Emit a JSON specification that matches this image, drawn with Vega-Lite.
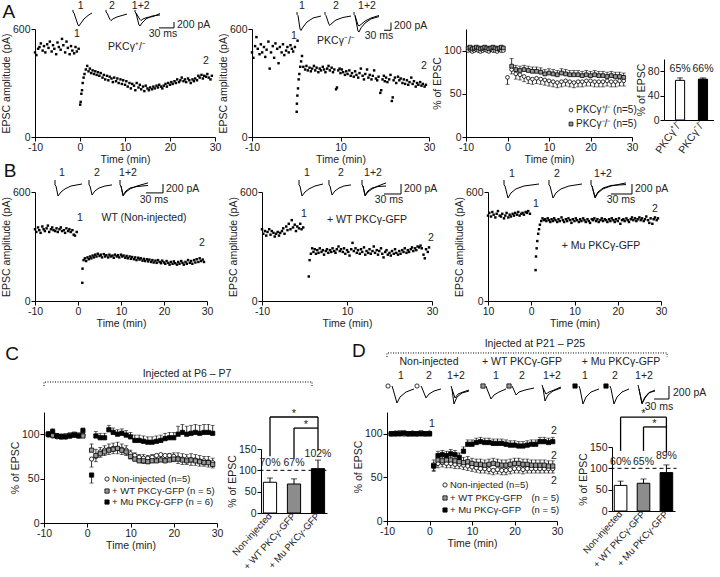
{
"$schema":"https://vega.github.io/schema/vega-lite/v6.json",
"background":"#ffffff",
"padding":{"left":1,"top":0,"right":0,"bottom":0},
"config":{
 "view":{"stroke":null},
 "font":"Liberation Sans",
 "axis":{"labelFont":"Liberation Sans","titleFont":"Liberation Sans","labelFontSize":10.5,"titleFontSize":10.5,"titleFontWeight":"normal","labelColor":"#222","titleColor":"#222","domainColor":"#000","tickColor":"#000","tickSize":4,"grid":false,"labelPadding":1,"titlePadding":1,"labelFlush":false},
 "text":{"font":"Liberation Sans","fontSize":10.5,"color":"#222"},
 "line":{"color":"#000","strokeWidth":1},
 "rule":{"color":"#000"},
 "tick":{"color":"#000"}
},
"datasets":{
"a1":[{"t":-10,"v":470},{"t":-9.7,"v":455},{"t":-9.3,"v":490},{"t":-9,"v":500},{"t":-8.7,"v":520},{"t":-8.3,"v":480},{"t":-8,"v":505},{"t":-7.7,"v":470},{"t":-7.3,"v":515},{"t":-7,"v":495},{"t":-6.7,"v":530},{"t":-6.3,"v":475},{"t":-6,"v":510},{"t":-5.7,"v":490},{"t":-5.3,"v":460},{"t":-5,"v":525},{"t":-4.7,"v":500},{"t":-4.3,"v":485},{"t":-4,"v":545},{"t":-3.7,"v":510},{"t":-3.3,"v":470},{"t":-3,"v":530},{"t":-2.7,"v":495},{"t":-2.3,"v":460},{"t":-2,"v":505},{"t":-1.7,"v":480},{"t":-1.3,"v":465},{"t":-1,"v":500},{"t":-0.7,"v":475},{"t":-0.3,"v":490},
{"t":0.05,"v":180},{"t":0.15,"v":195},{"t":0.3,"v":240},{"t":0.45,"v":260},{"t":0.6,"v":300},{"t":0.8,"v":330},{"t":1,"v":350},{"t":1.3,"v":375},{"t":1.6,"v":395},{"t":1.9,"v":365},{"t":2.2,"v":380},{"t":2.5,"v":355},{"t":2.8,"v":370},{"t":3.1,"v":350},{"t":3.4,"v":365},{"t":3.7,"v":345},{"t":4,"v":360},{"t":4.3,"v":340},{"t":4.6,"v":355},{"t":5,"v":330},{"t":5.3,"v":345},{"t":5.6,"v":320},{"t":6,"v":340},{"t":6.3,"v":315},{"t":6.6,"v":335},{"t":7,"v":325},{"t":7.3,"v":305},{"t":7.6,"v":330},{"t":8,"v":310},{"t":8.3,"v":325},{"t":8.6,"v":300},{"t":9,"v":320},{"t":9.3,"v":295},{"t":9.6,"v":315},{"t":10,"v":290},{"t":10.3,"v":310},{"t":10.6,"v":280},{"t":11,"v":300},{"t":11.3,"v":270},{"t":11.6,"v":295},{"t":12,"v":285},{"t":12.3,"v":260},{"t":12.6,"v":300},{"t":13,"v":275},{"t":13.3,"v":290},{"t":13.6,"v":265},{"t":14,"v":280},{"t":14.3,"v":255},{"t":14.6,"v":285},{"t":15,"v":270},{"t":15.3,"v":260},{"t":15.6,"v":275},{"t":16,"v":265},{"t":16.3,"v":280},{"t":16.6,"v":270},{"t":17,"v":285},{"t":17.3,"v":275},{"t":17.6,"v":290},{"t":18,"v":280},{"t":18.3,"v":270},{"t":18.6,"v":285},{"t":19,"v":295},{"t":19.3,"v":280},{"t":19.6,"v":300},{"t":20,"v":290},{"t":20.3,"v":305},{"t":20.6,"v":295},{"t":21,"v":310},{"t":21.3,"v":300},{"t":21.6,"v":320},{"t":22,"v":305},{"t":22.3,"v":315},{"t":22.6,"v":330},{"t":23,"v":310},{"t":23.3,"v":320},{"t":23.6,"v":305},{"t":24,"v":325},{"t":24.3,"v":315},{"t":24.6,"v":300},{"t":25,"v":320},{"t":25.3,"v":310},{"t":25.6,"v":325},{"t":26,"v":315},{"t":26.3,"v":340},{"t":26.6,"v":330},{"t":27,"v":345},{"t":27.3,"v":325},{"t":27.6,"v":340},{"t":28,"v":335},{"t":28.3,"v":350},{"t":28.6,"v":330},{"t":29,"v":320},{"t":29.3,"v":340}],
"a2":[{"t":-10,"v":470},{"t":-9.7,"v":440},{"t":-9.3,"v":505},{"t":-9,"v":555},{"t":-8.7,"v":490},{"t":-8.3,"v":460},{"t":-8,"v":515},{"t":-7.7,"v":470},{"t":-7.3,"v":500},{"t":-7,"v":445},{"t":-6.7,"v":485},{"t":-6.3,"v":530},{"t":-6,"v":380},{"t":-5.7,"v":470},{"t":-5.3,"v":505},{"t":-5,"v":440},{"t":-4.7,"v":520},{"t":-4.3,"v":490},{"t":-4,"v":410},{"t":-3.7,"v":500},{"t":-3.3,"v":470},{"t":-3,"v":515},{"t":-2.7,"v":455},{"t":-2.3,"v":480},{"t":-2,"v":500},{"t":-1.7,"v":470},{"t":-1.3,"v":510},{"t":-1,"v":490},{"t":-0.7,"v":475},{"t":-0.3,"v":500},
{"t":0.1,"v":140},{"t":0.15,"v":185},{"t":0.25,"v":230},{"t":0.3,"v":535},{"t":0.4,"v":270},{"t":0.55,"v":320},{"t":0.7,"v":350},{"t":0.9,"v":390},{"t":1.1,"v":420},{"t":1.3,"v":450},{"t":1.6,"v":390},{"t":2,"v":375},{"t":2.3,"v":395},{"t":2.6,"v":370},{"t":3,"v":385},{"t":3.3,"v":365},{"t":3.6,"v":380},{"t":4,"v":395},{"t":4.3,"v":370},{"t":4.6,"v":385},{"t":5,"v":360},{"t":5.3,"v":380},{"t":5.6,"v":370},{"t":6,"v":390},{"t":6.3,"v":375},{"t":6.6,"v":360},{"t":7,"v":380},{"t":7.3,"v":395},{"t":7.6,"v":370},{"t":8,"v":385},{"t":8.3,"v":360},{"t":8.6,"v":375},{"t":9,"v":265},{"t":9.2,"v":275},{"t":9.5,"v":370},{"t":9.8,"v":380},{"t":10,"v":355},{"t":10.3,"v":375},{"t":10.6,"v":360},{"t":11,"v":345},{"t":11.3,"v":365},{"t":11.6,"v":350},{"t":12,"v":370},{"t":12.3,"v":340},{"t":12.6,"v":355},{"t":13,"v":335},{"t":13.3,"v":365},{"t":13.6,"v":345},{"t":14,"v":330},{"t":14.3,"v":355},{"t":14.6,"v":380},{"t":15,"v":340},{"t":15.3,"v":320},{"t":15.6,"v":350},{"t":16,"v":375},{"t":16.3,"v":330},{"t":16.6,"v":345},{"t":17,"v":320},{"t":17.3,"v":340},{"t":17.6,"v":370},{"t":18,"v":325},{"t":18.3,"v":315},{"t":18.6,"v":335},{"t":19,"v":245},{"t":19.2,"v":260},{"t":19.5,"v":320},{"t":19.8,"v":340},{"t":20,"v":310},{"t":20.3,"v":330},{"t":20.6,"v":305},{"t":21,"v":320},{"t":21.3,"v":345},{"t":21.6,"v":200},{"t":21.8,"v":220},{"t":22,"v":315},{"t":22.3,"v":330},{"t":22.6,"v":300},{"t":23,"v":335},{"t":23.3,"v":315},{"t":23.6,"v":325},{"t":24,"v":300},{"t":24.3,"v":320},{"t":24.6,"v":295},{"t":25,"v":315},{"t":25.3,"v":290},{"t":25.6,"v":305},{"t":26,"v":330},{"t":26.3,"v":295},{"t":26.6,"v":310},{"t":27,"v":280},{"t":27.3,"v":300},{"t":27.6,"v":290},{"t":28,"v":305},{"t":28.3,"v":285},{"t":28.6,"v":295},{"t":29,"v":280},{"t":29.3,"v":290}],
"b1":[{"t":-10,"v":395},{"t":-9.7,"v":380},{"t":-9.3,"v":405},{"t":-9,"v":390},{"t":-8.7,"v":375},{"t":-8.3,"v":410},{"t":-8,"v":395},{"t":-7.7,"v":385},{"t":-7.3,"v":400},{"t":-7,"v":415},{"t":-6.7,"v":380},{"t":-6.3,"v":395},{"t":-6,"v":405},{"t":-5.7,"v":390},{"t":-5.3,"v":385},{"t":-5,"v":400},{"t":-4.7,"v":380},{"t":-4.3,"v":395},{"t":-4,"v":405},{"t":-3.7,"v":385},{"t":-3.3,"v":390},{"t":-3,"v":375},{"t":-2.7,"v":400},{"t":-2.3,"v":385},{"t":-2,"v":395},{"t":-1.7,"v":380},{"t":-1.3,"v":390},{"t":-1,"v":365},{"t":-0.7,"v":360},{"t":-0.3,"v":380},
{"t":1,"v":100},{"t":1.05,"v":178},{"t":1.3,"v":225},{"t":1.6,"v":235},{"t":1.9,"v":220},{"t":2.2,"v":240},{"t":2.5,"v":230},{"t":2.8,"v":245},{"t":3.1,"v":235},{"t":3.4,"v":250},{"t":3.7,"v":240},{"t":4,"v":255},{"t":4.3,"v":245},{"t":4.6,"v":260},{"t":5,"v":248},{"t":5.3,"v":255},{"t":5.6,"v":240},{"t":6,"v":258},{"t":6.3,"v":245},{"t":6.6,"v":252},{"t":7,"v":240},{"t":7.3,"v":255},{"t":7.6,"v":245},{"t":8,"v":250},{"t":8.3,"v":238},{"t":8.6,"v":255},{"t":9,"v":245},{"t":9.3,"v":252},{"t":9.6,"v":240},{"t":10,"v":255},{"t":10.3,"v":245},{"t":10.6,"v":250},{"t":11,"v":238},{"t":11.3,"v":248},{"t":11.6,"v":235},{"t":12,"v":245},{"t":12.3,"v":232},{"t":12.6,"v":242},{"t":13,"v":230},{"t":13.3,"v":240},{"t":13.6,"v":225},{"t":14,"v":238},{"t":14.3,"v":228},{"t":14.6,"v":235},{"t":15,"v":222},{"t":15.3,"v":232},{"t":15.6,"v":220},{"t":16,"v":230},{"t":16.3,"v":218},{"t":16.6,"v":228},{"t":17,"v":215},{"t":17.3,"v":225},{"t":17.6,"v":212},{"t":18,"v":222},{"t":18.3,"v":210},{"t":18.6,"v":225},{"t":19,"v":215},{"t":19.3,"v":208},{"t":19.6,"v":222},{"t":20,"v":212},{"t":20.3,"v":205},{"t":20.6,"v":220},{"t":21,"v":210},{"t":21.3,"v":200},{"t":21.6,"v":215},{"t":22,"v":205},{"t":22.3,"v":218},{"t":22.6,"v":208},{"t":23,"v":200},{"t":23.3,"v":215},{"t":23.6,"v":205},{"t":24,"v":220},{"t":24.3,"v":210},{"t":24.6,"v":200},{"t":25,"v":215},{"t":25.3,"v":205},{"t":25.6,"v":225},{"t":26,"v":210},{"t":26.3,"v":220},{"t":26.6,"v":205},{"t":27,"v":225},{"t":27.3,"v":212},{"t":27.6,"v":230},{"t":28,"v":215},{"t":28.3,"v":235},{"t":28.6,"v":220},{"t":29,"v":228},{"t":29.3,"v":215}],
"b2":[{"t":-10,"v":395},{"t":-9.7,"v":370},{"t":-9.3,"v":385},{"t":-9,"v":360},{"t":-8.7,"v":380},{"t":-8.3,"v":395},{"t":-8,"v":365},{"t":-7.7,"v":385},{"t":-7.3,"v":375},{"t":-7,"v":355},{"t":-6.7,"v":370},{"t":-6.3,"v":380},{"t":-6,"v":360},{"t":-5.7,"v":375},{"t":-5.3,"v":385},{"t":-5,"v":400},{"t":-4.7,"v":370},{"t":-4.3,"v":410},{"t":-4,"v":390},{"t":-3.7,"v":425},{"t":-3.3,"v":395},{"t":-3,"v":445},{"t":-2.7,"v":405},{"t":-2.3,"v":420},{"t":-2,"v":385},{"t":-1.7,"v":410},{"t":-1.3,"v":400},{"t":-1,"v":425},{"t":-0.7,"v":395},{"t":-0.3,"v":405},
{"t":1,"v":135},{"t":1.2,"v":225},{"t":1.5,"v":260},{"t":1.8,"v":290},{"t":2.1,"v":270},{"t":2.4,"v":285},{"t":2.7,"v":260},{"t":3,"v":280},{"t":3.3,"v":265},{"t":3.6,"v":290},{"t":4,"v":270},{"t":4.3,"v":280},{"t":4.6,"v":255},{"t":5,"v":275},{"t":5.3,"v":285},{"t":5.6,"v":265},{"t":6,"v":280},{"t":6.3,"v":270},{"t":6.6,"v":290},{"t":7,"v":275},{"t":7.3,"v":265},{"t":7.6,"v":285},{"t":8,"v":300},{"t":8.3,"v":275},{"t":8.6,"v":285},{"t":9,"v":270},{"t":9.3,"v":290},{"t":9.6,"v":260},{"t":10,"v":280},{"t":10.3,"v":270},{"t":10.6,"v":250},{"t":11,"v":285},{"t":11.3,"v":320},{"t":11.6,"v":275},{"t":12,"v":290},{"t":12.3,"v":265},{"t":12.6,"v":280},{"t":13,"v":260},{"t":13.3,"v":285},{"t":13.6,"v":270},{"t":14,"v":295},{"t":14.3,"v":255},{"t":14.6,"v":275},{"t":15,"v":265},{"t":15.3,"v":285},{"t":15.6,"v":260},{"t":16,"v":275},{"t":16.3,"v":300},{"t":16.6,"v":265},{"t":17,"v":280},{"t":17.3,"v":255},{"t":17.6,"v":275},{"t":18,"v":290},{"t":18.3,"v":260},{"t":18.6,"v":240},{"t":19,"v":270},{"t":19.3,"v":280},{"t":19.6,"v":255},{"t":20,"v":265},{"t":20.3,"v":250},{"t":20.6,"v":275},{"t":21,"v":260},{"t":21.3,"v":285},{"t":21.6,"v":265},{"t":22,"v":255},{"t":22.3,"v":275},{"t":22.6,"v":260},{"t":23,"v":280},{"t":23.3,"v":270},{"t":23.6,"v":290},{"t":24,"v":265},{"t":24.3,"v":280},{"t":24.6,"v":270},{"t":25,"v":285},{"t":25.3,"v":295},{"t":25.6,"v":275},{"t":26,"v":290},{"t":26.3,"v":280},{"t":26.6,"v":300},{"t":27,"v":295},{"t":27.3,"v":305},{"t":27.6,"v":290},{"t":28,"v":255},{"t":28.3,"v":235},{"t":28.6,"v":285},{"t":29,"v":270},{"t":29.3,"v":295}],
"b3":[{"t":-10,"v":470},{"t":-9.7,"v":485},{"t":-9.3,"v":465},{"t":-9,"v":490},{"t":-8.7,"v":475},{"t":-8.3,"v":460},{"t":-8,"v":480},{"t":-7.7,"v":495},{"t":-7.3,"v":470},{"t":-7,"v":465},{"t":-6.7,"v":480},{"t":-6.3,"v":455},{"t":-6,"v":470},{"t":-5.7,"v":485},{"t":-5.3,"v":460},{"t":-5,"v":475},{"t":-4.7,"v":465},{"t":-4.3,"v":480},{"t":-4,"v":470},{"t":-3.7,"v":485},{"t":-3.3,"v":475},{"t":-3,"v":490},{"t":-2.7,"v":470},{"t":-2.3,"v":480},{"t":-2,"v":485},{"t":-1.7,"v":475},{"t":-1.3,"v":490},{"t":-1,"v":485},{"t":-0.7,"v":495},{"t":-0.3,"v":480},
{"t":1,"v":170},{"t":1.1,"v":245},{"t":1.25,"v":290},{"t":1.4,"v":330},{"t":1.6,"v":370},{"t":1.8,"v":395},{"t":2,"v":420},{"t":2.3,"v":440},{"t":2.6,"v":455},{"t":2.9,"v":445},{"t":3.2,"v":450},{"t":3.5,"v":440},{"t":3.8,"v":455},{"t":4.1,"v":445},{"t":4.4,"v":435},{"t":4.7,"v":450},{"t":5,"v":440},{"t":5.3,"v":455},{"t":5.6,"v":445},{"t":6,"v":435},{"t":6.3,"v":450},{"t":6.6,"v":440},{"t":7,"v":460},{"t":7.3,"v":445},{"t":7.6,"v":435},{"t":8,"v":450},{"t":8.3,"v":440},{"t":8.6,"v":455},{"t":9,"v":445},{"t":9.3,"v":430},{"t":9.6,"v":450},{"t":10,"v":440},{"t":10.3,"v":455},{"t":10.6,"v":445},{"t":11,"v":435},{"t":11.3,"v":450},{"t":11.6,"v":440},{"t":12,"v":455},{"t":12.3,"v":445},{"t":12.6,"v":435},{"t":13,"v":450},{"t":13.3,"v":440},{"t":13.6,"v":430},{"t":14,"v":450},{"t":14.3,"v":445},{"t":14.6,"v":455},{"t":15,"v":440},{"t":15.3,"v":450},{"t":15.6,"v":435},{"t":16,"v":445},{"t":16.3,"v":455},{"t":16.6,"v":440},{"t":17,"v":450},{"t":17.3,"v":445},{"t":17.6,"v":435},{"t":18,"v":450},{"t":18.3,"v":440},{"t":18.6,"v":455},{"t":19,"v":445},{"t":19.3,"v":435},{"t":19.6,"v":450},{"t":20,"v":440},{"t":20.3,"v":455},{"t":20.6,"v":425},{"t":21,"v":445},{"t":21.3,"v":450},{"t":21.6,"v":440},{"t":22,"v":455},{"t":22.3,"v":445},{"t":22.6,"v":435},{"t":23,"v":450},{"t":23.3,"v":460},{"t":23.6,"v":445},{"t":24,"v":455},{"t":24.3,"v":440},{"t":24.6,"v":450},{"t":25,"v":460},{"t":25.3,"v":445},{"t":25.6,"v":455},{"t":26,"v":440},{"t":26.3,"v":450},{"t":26.6,"v":465},{"t":27,"v":445},{"t":27.3,"v":430},{"t":27.6,"v":455},{"t":28,"v":425},{"t":28.3,"v":450},{"t":28.6,"v":460},{"t":29,"v":445},{"t":29.3,"v":455}],
"ta1":[{"k":"1","t":-1.56,"v":706},{"k":"1","t":-1.56,"v":694},{"k":"1","t":-1.33,"v":689},{"k":"1","t":-0.44,"v":622},{"k":"1","t":-0.22,"v":617},{"k":"1","t":0.22,"v":633},{"k":"1","t":0.89,"v":656},{"k":"1","t":1.78,"v":675},{"k":"1","t":2.67,"v":689},
{"k":"2","t":5.78,"v":706},{"k":"2","t":5.78,"v":694},{"k":"2","t":6.0,"v":689},{"k":"2","t":6.67,"v":653},{"k":"2","t":6.89,"v":647},{"k":"2","t":7.33,"v":656},{"k":"2","t":8.22,"v":667},{"k":"2","t":9.33,"v":675},{"k":"2","t":10.44,"v":683},
{"k":"a","t":12.22,"v":706},{"k":"a","t":12.22,"v":694},{"k":"a","t":12.44,"v":689},{"k":"a","t":13.11,"v":622},{"k":"a","t":13.33,"v":617},{"k":"a","t":13.78,"v":633},{"k":"a","t":14.67,"v":656},{"k":"a","t":16.0,"v":672},{"k":"a","t":17.78,"v":678},
{"k":"b","t":12.44,"v":689},{"k":"b","t":13.33,"v":653},{"k":"b","t":13.56,"v":647},{"k":"b","t":14.0,"v":656},{"k":"b","t":14.89,"v":664},{"k":"b","t":16.22,"v":669},{"k":"b","t":17.78,"v":686},
{"k":"s","t":17.56,"v":606},{"k":"s","t":20.89,"v":606},{"k":"s","t":20.89,"v":639}],
"ta2":[{"k":"1","t":0.17,"v":694},{"k":"1","t":0.17,"v":681},{"k":"1","t":0.40,"v":675},{"k":"1","t":0.85,"v":600},{"k":"1","t":1.07,"v":592},{"k":"1","t":1.53,"v":611},{"k":"1","t":2.43,"v":639},{"k":"1","t":3.79,"v":661},{"k":"1","t":5.59,"v":672},
{"k":"2","t":6.50,"v":694},{"k":"2","t":6.50,"v":681},{"k":"2","t":6.72,"v":675},{"k":"2","t":7.40,"v":625},{"k":"2","t":7.63,"v":620},{"k":"2","t":8.08,"v":633},{"k":"2","t":8.98,"v":650},{"k":"2","t":10.56,"v":664},{"k":"2","t":12.37,"v":672},
{"k":"a","t":13.05,"v":694},{"k":"a","t":13.05,"v":681},{"k":"a","t":13.28,"v":675},{"k":"a","t":13.95,"v":589},{"k":"a","t":14.18,"v":583},{"k":"a","t":14.63,"v":606},{"k":"a","t":15.54,"v":633},{"k":"a","t":16.89,"v":656},{"k":"a","t":18.70,"v":669},
{"k":"b","t":13.28,"v":675},{"k":"b","t":13.95,"v":622},{"k":"b","t":14.18,"v":617},{"k":"b","t":14.63,"v":625},{"k":"b","t":15.54,"v":644},{"k":"b","t":16.89,"v":661},{"k":"b","t":18.70,"v":675},
{"k":"s","t":19.83,"v":593},{"k":"s","t":21.41,"v":593},{"k":"s","t":21.41,"v":636}],
"tb1":[{"k":"1","t":-5.35,"v":666},{"k":"1","t":-5.35,"v":639},{"k":"1","t":-5.12,"v":633},{"k":"1","t":-4.65,"v":578},{"k":"1","t":-3.95,"v":600},{"k":"1","t":-3.02,"v":617},{"k":"1","t":-1.63,"v":633},{"k":"1","t":0.93,"v":644},
{"k":"2","t":2.56,"v":666},{"k":"2","t":2.56,"v":639},{"k":"2","t":2.79,"v":633},{"k":"2","t":3.26,"v":584},{"k":"2","t":3.95,"v":606},{"k":"2","t":4.88,"v":622},{"k":"2","t":6.28,"v":633},{"k":"2","t":7.91,"v":639},
{"k":"a","t":9.77,"v":666},{"k":"a","t":9.77,"v":639},{"k":"a","t":10.0,"v":633},{"k":"a","t":10.47,"v":578},{"k":"a","t":11.16,"v":600},{"k":"a","t":12.09,"v":617},{"k":"a","t":13.72,"v":633},{"k":"a","t":16.28,"v":650},
{"k":"b","t":10.0,"v":633},{"k":"b","t":10.47,"v":584},{"k":"b","t":11.16,"v":606},{"k":"b","t":12.09,"v":622},{"k":"b","t":13.72,"v":630},{"k":"b","t":16.28,"v":636},
{"k":"s","t":15.81,"v":595},{"k":"s","t":19.77,"v":595},{"k":"s","t":19.77,"v":644}],
"tb2":[{"k":"1","t":-1.29,"v":666},{"k":"1","t":-1.29,"v":639},{"k":"1","t":-1.06,"v":633},{"k":"1","t":-0.59,"v":578},{"k":"1","t":0.12,"v":600},{"k":"1","t":1.06,"v":617},{"k":"1","t":2.47,"v":633},{"k":"1","t":4.35,"v":644},
{"k":"2","t":5.76,"v":666},{"k":"2","t":5.76,"v":639},{"k":"2","t":6.0,"v":633},{"k":"2","t":6.47,"v":584},{"k":"2","t":7.18,"v":606},{"k":"2","t":8.12,"v":622},{"k":"2","t":9.29,"v":633},{"k":"2","t":10.94,"v":639},
{"k":"a","t":13.53,"v":666},{"k":"a","t":13.53,"v":639},{"k":"a","t":13.76,"v":633},{"k":"a","t":14.24,"v":578},{"k":"a","t":14.94,"v":600},{"k":"a","t":15.88,"v":617},{"k":"a","t":17.29,"v":633},{"k":"a","t":19.18,"v":650},
{"k":"b","t":13.76,"v":633},{"k":"b","t":14.24,"v":584},{"k":"b","t":14.94,"v":606},{"k":"b","t":15.88,"v":622},{"k":"b","t":17.29,"v":630},{"k":"b","t":19.18,"v":633},
{"k":"s","t":18.71,"v":589},{"k":"s","t":22.71,"v":589},{"k":"s","t":22.71,"v":644}],
"tb3":[{"k":"1","t":-6.30,"v":666},{"k":"1","t":-6.30,"v":639},{"k":"1","t":-6.07,"v":633},{"k":"1","t":-5.38,"v":567},{"k":"1","t":-4.68,"v":595},{"k":"1","t":-3.53,"v":617},{"k":"1","t":-1.68,"v":633},{"k":"1","t":1.79,"v":644},
{"k":"2","t":4.10,"v":666},{"k":"2","t":4.10,"v":639},{"k":"2","t":4.34,"v":633},{"k":"2","t":5.03,"v":567},{"k":"2","t":5.72,"v":595},{"k":"2","t":6.88,"v":617},{"k":"2","t":8.73,"v":633},{"k":"2","t":11.73,"v":644},
{"k":"a","t":13.82,"v":666},{"k":"a","t":13.82,"v":639},{"k":"a","t":14.05,"v":633},{"k":"a","t":14.74,"v":567},{"k":"a","t":15.43,"v":595},{"k":"a","t":16.59,"v":617},{"k":"a","t":18.44,"v":633},{"k":"a","t":21.91,"v":650},
{"k":"b","t":14.05,"v":633},{"k":"b","t":14.74,"v":573},{"k":"b","t":15.43,"v":600},{"k":"b","t":16.59,"v":622},{"k":"b","t":18.44,"v":636},{"k":"b","t":21.91,"v":641},
{"k":"s","t":18.44,"v":589},{"k":"s","t":23.29,"v":589},{"k":"s","t":23.29,"v":644}],
"td":[{"k":"n1","t":-8.82,"v":154.8},{"k":"n1","t":-8.59,"v":151.4},{"k":"n1","t":-7.65,"v":135.3},{"k":"n1","t":-6.94,"v":142.2},{"k":"n1","t":-5.53,"v":147.9},{"k":"n1","t":-3.65,"v":151.4},
{"k":"n2","t":-2.0,"v":154.8},{"k":"n2","t":-1.76,"v":152.5},{"k":"n2","t":-0.82,"v":141.1},{"k":"n2","t":-0.12,"v":145.6},{"k":"n2","t":1.06,"v":149.1},{"k":"n2","t":2.71,"v":151.4},
{"k":"na","t":5.06,"v":154.8},{"k":"na","t":5.29,"v":151.4},{"k":"na","t":5.76,"v":134.2},{"k":"na","t":6.47,"v":142.2},{"k":"na","t":7.65,"v":146.8},{"k":"na","t":9.29,"v":149.1},
{"k":"nb","t":5.29,"v":151.4},{"k":"nb","t":6.0,"v":141.1},{"k":"nb","t":6.71,"v":145.6},{"k":"nb","t":7.88,"v":147.9},{"k":"nb","t":9.29,"v":150.2},
{"k":"w1","t":13.29,"v":154.8},{"k":"w1","t":13.53,"v":151.4},{"k":"w1","t":14.47,"v":139.9},{"k":"w1","t":15.18,"v":144.5},{"k":"w1","t":16.35,"v":147.9},{"k":"w1","t":18.0,"v":151.4},
{"k":"w2","t":19.41,"v":154.8},{"k":"w2","t":19.65,"v":152.5},{"k":"w2","t":20.35,"v":144.5},{"k":"w2","t":21.06,"v":147.9},{"k":"w2","t":22.47,"v":150.2},{"k":"w2","t":24.59,"v":152.5},
{"k":"wa","t":26.47,"v":156.0},{"k":"wa","t":26.71,"v":152.5},{"k":"wa","t":27.18,"v":137.6},{"k":"wa","t":27.88,"v":144.5},{"k":"wa","t":29.06,"v":149.1},{"k":"wa","t":30.94,"v":152.5},
{"k":"wb","t":26.71,"v":152.5},{"k":"wb","t":27.41,"v":145.6},{"k":"wb","t":28.12,"v":147.9},{"k":"wb","t":29.29,"v":150.2},{"k":"wb","t":30.94,"v":153.7},
{"k":"m1","t":35.18,"v":154.8},{"k":"m1","t":35.41,"v":151.4},{"k":"m1","t":36.12,"v":134.2},{"k":"m1","t":36.82,"v":142.2},{"k":"m1","t":38.0,"v":147.9},{"k":"m1","t":39.88,"v":151.4},
{"k":"m2","t":42.47,"v":154.8},{"k":"m2","t":42.71,"v":151.4},{"k":"m2","t":43.41,"v":134.2},{"k":"m2","t":44.12,"v":142.2},{"k":"m2","t":45.29,"v":147.9},{"k":"m2","t":46.94,"v":151.4},
{"k":"ma","t":49.06,"v":156.0},{"k":"ma","t":49.29,"v":151.4},{"k":"ma","t":50.0,"v":134.2},{"k":"ma","t":50.71,"v":141.1},{"k":"ma","t":51.65,"v":146.8},{"k":"ma","t":53.06,"v":150.2},
{"k":"mb","t":49.29,"v":151.4},{"k":"mb","t":50.0,"v":135.3},{"k":"mb","t":50.71,"v":142.2},{"k":"mb","t":51.65,"v":147.4},{"k":"mb","t":53.06,"v":149.1},
{"k":"s","t":52.82,"v":139.9},{"k":"s","t":56.35,"v":139.9},{"k":"s","t":56.35,"v":154.8}],
"dots":[{"p":"c1","t":-10,"v":154.3},{"p":"c1","t":-10,"v":158.8},{"p":"c1","t":51.97,"v":158.8},{"p":"c1","t":51.97,"v":154.3},
{"p":"d1","t":-10,"v":188.1},{"p":"d1","t":-10,"v":192.7},{"p":"d1","t":55.9,"v":192.7},{"p":"d1","t":55.9,"v":188.1}],
"a3":[{"g":"h","t":-9.5,"v":100,"e":99},{"g":"h","t":-9,"v":101,"e":100},{"g":"h","t":-8.5,"v":99,"e":98},{"g":"h","t":-8,"v":100,"e":99},{"g":"h","t":-7.5,"v":101,"e":100},{"g":"h","t":-7,"v":100,"e":99},{"g":"h","t":-6.5,"v":99,"e":98},{"g":"h","t":-6,"v":100,"e":99},{"g":"h","t":-5.5,"v":101,"e":100},{"g":"h","t":-5,"v":100,"e":99},{"g":"h","t":-4.5,"v":99,"e":98},{"g":"h","t":-4,"v":101,"e":100},{"g":"h","t":-3.5,"v":100,"e":99},{"g":"h","t":-3,"v":100,"e":99},{"g":"h","t":-2.5,"v":99,"e":98},{"g":"h","t":-2,"v":101,"e":100},{"g":"h","t":-1.5,"v":100,"e":99},{"g":"h","t":-1,"v":100,"e":99},
{"g":"h","t":0,"v":69,"e":61},{"g":"h","t":1,"v":78,"e":73},{"g":"h","t":2,"v":73,"e":67},{"g":"h","t":3,"v":72,"e":66},{"g":"h","t":4,"v":70,"e":64},{"g":"h","t":5,"v":68,"e":62},{"g":"h","t":6,"v":67,"e":61},{"g":"h","t":7,"v":68,"e":62},{"g":"h","t":8,"v":67,"e":61},{"g":"h","t":9,"v":66,"e":60},{"g":"h","t":10,"v":65,"e":59},{"g":"h","t":11,"v":64,"e":58},{"g":"h","t":12,"v":63,"e":57},{"g":"h","t":13,"v":64,"e":58},{"g":"h","t":14,"v":65,"e":59},{"g":"h","t":15,"v":64,"e":58},{"g":"h","t":16,"v":63,"e":57},{"g":"h","t":17,"v":64,"e":58},{"g":"h","t":18,"v":64,"e":58},{"g":"h","t":19,"v":65,"e":59},{"g":"h","t":20,"v":65,"e":59},{"g":"h","t":21,"v":64,"e":58},{"g":"h","t":22,"v":64,"e":58},{"g":"h","t":23,"v":64,"e":58},{"g":"h","t":24,"v":65,"e":59},{"g":"h","t":25,"v":64,"e":58},{"g":"h","t":26,"v":64,"e":58},{"g":"h","t":27,"v":65,"e":59},{"g":"h","t":28,"v":65,"e":59},
{"g":"k","t":-9.5,"v":103,"e":104},{"g":"k","t":-9,"v":104,"e":105},{"g":"k","t":-8.5,"v":102,"e":103},{"g":"k","t":-8,"v":103,"e":104},{"g":"k","t":-7.5,"v":104,"e":105},{"g":"k","t":-7,"v":103,"e":104},{"g":"k","t":-6.5,"v":102,"e":103},{"g":"k","t":-6,"v":103,"e":104},{"g":"k","t":-5.5,"v":104,"e":105},{"g":"k","t":-5,"v":103,"e":104},{"g":"k","t":-4.5,"v":102,"e":103},{"g":"k","t":-4,"v":103,"e":104},{"g":"k","t":-3.5,"v":104,"e":105},{"g":"k","t":-3,"v":103,"e":104},{"g":"k","t":-2.5,"v":102,"e":103},{"g":"k","t":-2,"v":103,"e":104},{"g":"k","t":-1.5,"v":104,"e":105},{"g":"k","t":-1,"v":103,"e":104},
{"g":"k","t":1,"v":82,"e":91},{"g":"k","t":2,"v":78,"e":83},{"g":"k","t":3,"v":77,"e":82},{"g":"k","t":4,"v":78,"e":83},{"g":"k","t":5,"v":77,"e":82},{"g":"k","t":6,"v":76,"e":81},{"g":"k","t":7,"v":76,"e":81},{"g":"k","t":8,"v":75,"e":80},{"g":"k","t":9,"v":73,"e":78},{"g":"k","t":10,"v":74,"e":79},{"g":"k","t":11,"v":73,"e":78},{"g":"k","t":12,"v":72,"e":77},{"g":"k","t":13,"v":74,"e":79},{"g":"k","t":14,"v":73,"e":78},{"g":"k","t":15,"v":72,"e":77},{"g":"k","t":16,"v":72,"e":77},{"g":"k","t":17,"v":72,"e":77},{"g":"k","t":18,"v":71,"e":76},{"g":"k","t":19,"v":72,"e":77},{"g":"k","t":20,"v":71,"e":76},{"g":"k","t":21,"v":72,"e":77},{"g":"k","t":22,"v":71,"e":76},{"g":"k","t":23,"v":71,"e":76},{"g":"k","t":24,"v":70,"e":75},{"g":"k","t":25,"v":71,"e":76},{"g":"k","t":26,"v":70,"e":75},{"g":"k","t":27,"v":70,"e":75},{"g":"k","t":28,"v":69,"e":74}],
"c1":[{"g":"n","t":-9,"v":99,"e":97},{"g":"n","t":-8,"v":98,"e":96},{"g":"n","t":-7,"v":97,"e":95},{"g":"n","t":-6,"v":98,"e":96},{"g":"n","t":-5,"v":97,"e":95},{"g":"n","t":-4,"v":98,"e":96},{"g":"n","t":-3,"v":99,"e":97},{"g":"n","t":-2,"v":98,"e":96},{"g":"n","t":-1,"v":99,"e":97},
{"g":"n","t":1,"v":72,"e":63},{"g":"n","t":2,"v":75,"e":69},{"g":"n","t":3,"v":80,"e":74},{"g":"n","t":4,"v":82,"e":76},{"g":"n","t":5,"v":83,"e":77},{"g":"n","t":6,"v":84,"e":78},{"g":"n","t":7,"v":84,"e":78},{"g":"n","t":8,"v":83,"e":77},{"g":"n","t":9,"v":82,"e":76},{"g":"n","t":10,"v":78,"e":72},{"g":"n","t":11,"v":76,"e":70},{"g":"n","t":12,"v":74,"e":68},{"g":"n","t":13,"v":73,"e":67},{"g":"n","t":14,"v":73,"e":67},{"g":"n","t":15,"v":74,"e":68},{"g":"n","t":16,"v":76,"e":70},{"g":"n","t":17,"v":77,"e":71},{"g":"n","t":18,"v":76,"e":70},{"g":"n","t":19,"v":76,"e":70},{"g":"n","t":20,"v":75,"e":69},{"g":"n","t":21,"v":73,"e":67},{"g":"n","t":22,"v":72,"e":66},{"g":"n","t":23,"v":72,"e":66},{"g":"n","t":24,"v":71,"e":65},{"g":"n","t":25,"v":71,"e":65},{"g":"n","t":26,"v":70,"e":64},{"g":"n","t":27,"v":70,"e":64},{"g":"n","t":28,"v":69,"e":63},{"g":"n","t":29,"v":68,"e":62},
{"g":"w","t":-9,"v":100,"e":102},{"g":"w","t":-8,"v":99,"e":101},{"g":"w","t":-7,"v":98,"e":100},{"g":"w","t":-6,"v":97,"e":99},{"g":"w","t":-5,"v":98,"e":100},{"g":"w","t":-4,"v":99,"e":101},{"g":"w","t":-3,"v":100,"e":102},{"g":"w","t":-2,"v":99,"e":101},{"g":"w","t":-1,"v":98,"e":100},
{"g":"w","t":1,"v":82,"e":89},{"g":"w","t":2,"v":76,"e":83},{"g":"w","t":3,"v":78,"e":85},{"g":"w","t":4,"v":80,"e":87},{"g":"w","t":5,"v":82,"e":89},{"g":"w","t":6,"v":83,"e":90},{"g":"w","t":7,"v":84,"e":91},{"g":"w","t":8,"v":82,"e":89},{"g":"w","t":9,"v":80,"e":87},{"g":"w","t":10,"v":75,"e":82},{"g":"w","t":11,"v":72,"e":79},{"g":"w","t":12,"v":70,"e":77},{"g":"w","t":13,"v":70,"e":77},{"g":"w","t":14,"v":69,"e":76},{"g":"w","t":15,"v":70,"e":77},{"g":"w","t":16,"v":70,"e":77},{"g":"w","t":17,"v":71,"e":78},{"g":"w","t":18,"v":70,"e":77},{"g":"w","t":19,"v":71,"e":78},{"g":"w","t":20,"v":72,"e":79},{"g":"w","t":21,"v":72,"e":79},{"g":"w","t":22,"v":71,"e":78},{"g":"w","t":23,"v":70,"e":77},{"g":"w","t":24,"v":71,"e":78},{"g":"w","t":25,"v":70,"e":77},{"g":"w","t":26,"v":69,"e":76},{"g":"w","t":27,"v":68,"e":75},{"g":"w","t":28,"v":68,"e":75},{"g":"w","t":29,"v":66,"e":73},
{"g":"m","t":-9,"v":100,"e":103},{"g":"m","t":-8,"v":103,"e":106},{"g":"m","t":-7,"v":98,"e":101},{"g":"m","t":-6,"v":97,"e":100},{"g":"m","t":-5,"v":97,"e":100},{"g":"m","t":-4,"v":98,"e":101},{"g":"m","t":-3,"v":99,"e":102},{"g":"m","t":-2,"v":98,"e":101},{"g":"m","t":-1,"v":104,"e":107},
{"g":"m","t":1,"v":54,"e":45},{"g":"m","t":2,"v":98,"e":103},{"g":"m","t":3,"v":96,"e":101},{"g":"m","t":4,"v":96,"e":101},{"g":"m","t":5,"v":105,"e":110},{"g":"m","t":6,"v":102,"e":107},{"g":"m","t":7,"v":100,"e":105},{"g":"m","t":8,"v":101,"e":106},{"g":"m","t":9,"v":99,"e":104},{"g":"m","t":10,"v":97,"e":102},{"g":"m","t":11,"v":93,"e":99},{"g":"m","t":12,"v":93,"e":99},{"g":"m","t":13,"v":92,"e":98},{"g":"m","t":14,"v":91,"e":97},{"g":"m","t":15,"v":91,"e":97},{"g":"m","t":16,"v":92,"e":98},{"g":"m","t":17,"v":93,"e":99},{"g":"m","t":18,"v":95,"e":101},{"g":"m","t":19,"v":96,"e":102},{"g":"m","t":20,"v":96,"e":102},{"g":"m","t":21,"v":100,"e":109},{"g":"m","t":22,"v":102,"e":111},{"g":"m","t":23,"v":100,"e":109},{"g":"m","t":24,"v":101,"e":110},{"g":"m","t":25,"v":102,"e":111},{"g":"m","t":26,"v":101,"e":110},{"g":"m","t":27,"v":102,"e":111},{"g":"m","t":28,"v":102,"e":111},{"g":"m","t":29,"v":101,"e":110}],
"d1":[{"g":"n","t":-9,"v":100,"e":99},{"g":"n","t":-8,"v":101,"e":100},{"g":"n","t":-7,"v":100,"e":99},{"g":"n","t":-6,"v":100,"e":99},{"g":"n","t":-5,"v":100,"e":99},{"g":"n","t":-4,"v":101,"e":100},{"g":"n","t":-3,"v":100,"e":99},{"g":"n","t":-2,"v":100,"e":99},{"g":"n","t":-1,"v":100,"e":99},{"g":"n","t":0,"v":101,"e":100},
{"g":"n","t":1,"v":63,"e":58},{"g":"n","t":2,"v":66,"e":61},{"g":"n","t":3,"v":67,"e":62},{"g":"n","t":4,"v":66,"e":61},{"g":"n","t":5,"v":66,"e":61},{"g":"n","t":6,"v":65,"e":60},{"g":"n","t":7,"v":65,"e":60},{"g":"n","t":8,"v":64,"e":59},{"g":"n","t":9,"v":63,"e":58},{"g":"n","t":10,"v":62,"e":57},{"g":"n","t":11,"v":61,"e":56},{"g":"n","t":12,"v":60,"e":55},{"g":"n","t":13,"v":60,"e":55},{"g":"n","t":14,"v":59,"e":54},{"g":"n","t":15,"v":58,"e":53},{"g":"n","t":16,"v":59,"e":54},{"g":"n","t":17,"v":58,"e":53},{"g":"n","t":18,"v":58,"e":53},{"g":"n","t":19,"v":59,"e":54},{"g":"n","t":20,"v":60,"e":55},{"g":"n","t":21,"v":60,"e":55},{"g":"n","t":22,"v":59,"e":54},{"g":"n","t":23,"v":60,"e":55},{"g":"n","t":24,"v":60,"e":55},{"g":"n","t":25,"v":60,"e":55},{"g":"n","t":26,"v":60,"e":55},{"g":"n","t":27,"v":60,"e":55},{"g":"n","t":28,"v":60,"e":55},{"g":"n","t":29,"v":60,"e":55},
{"g":"w","t":-9,"v":100,"e":101},{"g":"w","t":-8,"v":100,"e":101},{"g":"w","t":-7,"v":101,"e":102},{"g":"w","t":-6,"v":100,"e":101},{"g":"w","t":-5,"v":100,"e":101},{"g":"w","t":-4,"v":100,"e":101},{"g":"w","t":-3,"v":100,"e":101},{"g":"w","t":-2,"v":101,"e":102},{"g":"w","t":-1,"v":100,"e":101},{"g":"w","t":0,"v":100,"e":101},
{"g":"w","t":1,"v":64,"e":70},{"g":"w","t":2,"v":70,"e":76},{"g":"w","t":3,"v":69,"e":75},{"g":"w","t":4,"v":70,"e":76},{"g":"w","t":5,"v":70,"e":76},{"g":"w","t":6,"v":69,"e":75},{"g":"w","t":7,"v":68,"e":74},{"g":"w","t":8,"v":67,"e":73},{"g":"w","t":9,"v":68,"e":74},{"g":"w","t":10,"v":66,"e":72},{"g":"w","t":11,"v":65,"e":71},{"g":"w","t":12,"v":65,"e":71},{"g":"w","t":13,"v":64,"e":70},{"g":"w","t":14,"v":65,"e":71},{"g":"w","t":15,"v":66,"e":72},{"g":"w","t":16,"v":65,"e":71},{"g":"w","t":17,"v":64,"e":70},{"g":"w","t":18,"v":64,"e":70},{"g":"w","t":19,"v":65,"e":71},{"g":"w","t":20,"v":66,"e":72},{"g":"w","t":21,"v":66,"e":72},{"g":"w","t":22,"v":65,"e":71},{"g":"w","t":23,"v":65,"e":71},{"g":"w","t":24,"v":64,"e":70},{"g":"w","t":25,"v":64,"e":70},{"g":"w","t":26,"v":64,"e":70},{"g":"w","t":27,"v":64,"e":70},{"g":"w","t":28,"v":63,"e":69},{"g":"w","t":29,"v":63,"e":69},
{"g":"m","t":-9,"v":100,"e":101},{"g":"m","t":-8,"v":100,"e":101},{"g":"m","t":-7,"v":100,"e":101},{"g":"m","t":-6,"v":101,"e":102},{"g":"m","t":-5,"v":100,"e":101},{"g":"m","t":-4,"v":100,"e":101},{"g":"m","t":-3,"v":100,"e":101},{"g":"m","t":-2,"v":100,"e":101},{"g":"m","t":-1,"v":100,"e":101},{"g":"m","t":0,"v":100,"e":101},
{"g":"m","t":1,"v":63,"e":57},{"g":"m","t":2,"v":75,"e":80},{"g":"m","t":3,"v":76,"e":81},{"g":"m","t":4,"v":75,"e":80},{"g":"m","t":5,"v":77,"e":82},{"g":"m","t":6,"v":76,"e":81},{"g":"m","t":7,"v":73,"e":78},{"g":"m","t":8,"v":80,"e":85},{"g":"m","t":9,"v":88,"e":93},{"g":"m","t":10,"v":88,"e":93},{"g":"m","t":11,"v":90,"e":95},{"g":"m","t":12,"v":91,"e":96},{"g":"m","t":13,"v":90,"e":95},{"g":"m","t":14,"v":90,"e":95},{"g":"m","t":15,"v":89,"e":94},{"g":"m","t":16,"v":89,"e":94},{"g":"m","t":17,"v":89,"e":94},{"g":"m","t":18,"v":88,"e":93},{"g":"m","t":19,"v":87,"e":92},{"g":"m","t":20,"v":87,"e":92},{"g":"m","t":21,"v":86,"e":91},{"g":"m","t":22,"v":86,"e":91},{"g":"m","t":23,"v":87,"e":92},{"g":"m","t":24,"v":88,"e":93},{"g":"m","t":25,"v":88,"e":93},{"g":"m","t":26,"v":91,"e":96},{"g":"m","t":27,"v":91,"e":96},{"g":"m","t":28,"v":90,"e":95},{"g":"m","t":29,"v":91,"e":96}],
"sym":[{"p":"a3","g":"h","t":15.3,"v":31.2},{"p":"a3","g":"k","t":15.3,"v":15},
{"p":"c1","g":"n","t":4.57,"v":49.5},{"p":"c1","g":"w","t":4.57,"v":36},{"p":"c1","g":"m","t":4.57,"v":23.6},
{"p":"d1","g":"n","t":3.65,"v":41.3},{"p":"d1","g":"w","t":3.65,"v":26.4},{"p":"d1","g":"m","t":3.65,"v":12.6},
{"p":"d1","g":"n","t":-9.76,"v":154.8},{"p":"d1","g":"n","t":-2.94,"v":154.8},{"p":"d1","g":"w","t":12.59,"v":154.8},{"p":"d1","g":"w","t":18.71,"v":154.8},{"p":"d1","g":"m","t":34.24,"v":154.8},{"p":"d1","g":"m","t":41.53,"v":154.8}],
"abar":[{"c":"PKCγ⁺/⁻","v":65,"e":69,"s":"65%","lv":84},{"c":"PKCγ⁻/⁻","v":67,"e":69,"s":"66%","lv":84}],
"cbar":[{"c":"Non-injected","v":72,"e":82,"s":"70%","lv":117},{"c":"+ WT PKCγ-GFP","v":68,"e":80,"s":"67%","lv":117},{"c":"+ Mu PKCγ-GFP","v":104,"e":124,"s":"102%","lv":138}],
"dbar":[{"c":"Non-injected","v":60,"e":70,"s":"60%","lv":115},{"c":"+ WT PKCγ-GFP","v":65,"e":75,"s":"65%","lv":115},{"c":"+ Mu PKCγ-GFP","v":90,"e":108,"s":"89%","lv":129}],
"br":[{"p":"c","x":"Non-injected","x2":"+ Mu PKCγ-GFP","y":225,"y2":225},{"p":"c","x":"Non-injected","x2":"Non-injected","y":133,"y2":225},{"p":"c","x":"+ WT PKCγ-GFP","x2":"+ Mu PKCγ-GFP","y":199,"y2":199},{"p":"c","x":"+ WT PKCγ-GFP","x2":"+ WT PKCγ-GFP","y":129,"y2":199},{"p":"c","x":"+ Mu PKCγ-GFP","x2":"+ Mu PKCγ-GFP","y":147,"y2":225},
{"p":"d","x":"Non-injected","x2":"+ Mu PKCγ-GFP","y":220,"y2":220},{"p":"d","x":"Non-injected","x2":"Non-injected","y":141,"y2":220},{"p":"d","x":"+ WT PKCγ-GFP","x2":"+ Mu PKCγ-GFP","y":197,"y2":197},{"p":"d","x":"+ WT PKCγ-GFP","x2":"+ WT PKCγ-GFP","y":141,"y2":197},{"p":"d","x":"+ Mu PKCγ-GFP","x2":"+ Mu PKCγ-GFP","y":137,"y2":220}],
"stars":[{"p":"c","n":1,"c":"+ WT PKCγ-GFP","v":233},{"p":"c","n":2,"c":"+ Mu PKCγ-GFP","v":207},{"p":"d","n":1,"c":"+ WT PKCγ-GFP","v":227},{"p":"d","n":2,"c":"+ Mu PKCγ-GFP","v":204}],
"labc":[{"p":"a1","t":0.16,"v":728,"s":"1"},{"p":"a1","t":7.11,"v":728,"s":"2"},{"p":"a1","t":13.5,"v":728,"s":"1+2"},{"p":"a1","t":18.44,"v":572,"s":"30 ms"},{"p":"a1","t":-0.67,"v":572,"s":"1"},{"p":"a1","t":28,"v":422,"s":"2"},{"p":"a1","t":10.44,"v":500,"s":"PKCγ⁺/⁻"},
{"p":"a2","t":1.3,"v":728,"s":"1"},{"p":"a2","t":8.98,"v":728,"s":"2"},{"p":"a2","t":15.99,"v":728,"s":"1+2"},{"p":"a2","t":18.7,"v":561,"s":"30 ms"},{"p":"a2","t":-0.51,"v":561,"s":"1"},{"p":"a2","t":28.87,"v":394,"s":"2"},{"p":"a2","t":8.98,"v":533,"s":"PKCγ⁻/⁻"},
{"p":"b1","t":-3.72,"v":705,"s":"1"},{"p":"b1","t":4.42,"v":705,"s":"2"},{"p":"b1","t":11.63,"v":705,"s":"1+2"},{"p":"b1","t":17.67,"v":556,"s":"30 ms"},{"p":"b1","t":0.47,"v":457,"s":"1"},{"p":"b1","t":28.84,"v":319,"s":"2"},{"p":"b1","t":15.35,"v":457,"s":"WT (Non-injected)"},
{"p":"b2","t":0.59,"v":705,"s":"1"},{"p":"b2","t":8.59,"v":705,"s":"2"},{"p":"b2","t":16.12,"v":705,"s":"1+2"},{"p":"b2","t":19.88,"v":556,"s":"30 ms"},{"p":"b2","t":-0.12,"v":479,"s":"1"},{"p":"b2","t":29.76,"v":347,"s":"2"},{"p":"b2","t":14.71,"v":446,"s":"+ WT PKCγ-GFP"},
{"p":"b3","t":-4.45,"v":699,"s":"1"},{"p":"b3","t":5.95,"v":699,"s":"2"},{"p":"b3","t":16.59,"v":699,"s":"1+2"},{"p":"b3","t":20.75,"v":556,"s":"30 ms"},{"p":"b3","t":1.1,"v":534,"s":"1"},{"p":"b3","t":28.61,"v":506,"s":"2"},{"p":"b3","t":16.13,"v":303,"s":"+ Mu PKCγ-GFP"},
{"p":"c1","t":23.06,"v":167.3,"s":"Injected at P6 – P7"},
{"p":"d1","t":24.8,"v":203,"s":"Injected at P21 – P25"},{"p":"d1","t":-0.12,"v":182.3,"s":"Non-injected"},{"p":"d1","t":21.76,"v":182.3,"s":"+ WT PKCγ-GFP"},{"p":"d1","t":45.06,"v":182.3,"s":"+ Mu PKCγ-GFP"},{"p":"d1","t":-6.71,"v":166.3,"s":"1"},{"p":"d1","t":-0.12,"v":166.3,"s":"2"},{"p":"d1","t":6.24,"v":166.3,"s":"1+2"},{"p":"d1","t":15.65,"v":166.3,"s":"1"},{"p":"d1","t":21.76,"v":166.3,"s":"2"},{"p":"d1","t":28.82,"v":166.3,"s":"1+2"},{"p":"d1","t":36.59,"v":166.3,"s":"1"},{"p":"d1","t":43.65,"v":166.3,"s":"2"},{"p":"d1","t":50.47,"v":166.3,"s":"1+2"},{"p":"d1","t":54.0,"v":130.7,"s":"30 ms"},{"p":"d1","t":0.59,"v":111.2,"s":"1"},{"p":"d1","t":29.29,"v":103.2,"s":"2"},{"p":"d1","t":29.29,"v":74.5,"s":"2"},{"p":"d1","t":29.29,"v":45.9,"s":"2"}],
"labl":[{"p":"a1","t":21.56,"v":622,"s":"200 pA"},{"p":"a2","t":22.09,"v":617,"s":"200 pA"},{"p":"b1","t":20.47,"v":617,"s":"200 pA"},{"p":"b2","t":23.41,"v":617,"s":"200 pA"},{"p":"b3","t":23.99,"v":617,"s":"200 pA"},{"p":"d1","t":57.29,"v":146.8,"s":"200 pA"}],
"leg":[{"p":"a3","t":16.5,"v":31.2,"s":"PKCγ⁺/⁻ (n=5)"},{"p":"a3","t":16.5,"v":15,"s":"PKCγ⁻/⁻ (n=5)"},
{"p":"c1","t":5.72,"v":49.5,"s":"Non-injected (n=5)"},{"p":"c1","t":5.72,"v":36,"s":"+ WT PKCγ-GFP (n = 5)"},{"p":"c1","t":5.72,"v":23.6,"s":"+ Mu PKCγ-GFP (n = 6)"},
{"p":"d1","t":4.82,"v":41.3,"s":"Non-injected (n=5)"},{"p":"d1","t":4.82,"v":26.4,"s":"+ WT PKCγ-GFP"},{"p":"d1","t":4.82,"v":12.6,"s":"+ Mu PKCγ-GFP"}],
"labr":[{"p":"d1","t":30.5,"v":26.4,"s":"(n = 5)"},{"p":"d1","t":30.5,"v":12.6,"s":"(n = 5)"}],
"lett":[{"p":"a1","t":-15.8,"v":694,"s":"A"},{"p":"b1","t":-15.81,"v":716,"s":"B"},{"p":"c1","t":-17.4,"v":190.3,"s":"C"},{"p":"d1","t":-16.6,"v":195,"s":"D"}]
},
"concat":[
 {"width":214,"height":108,"layer":[
  {"data":{"name":"a1"},"mark":{"type":"point","shape":"square","filled":true,"size":6,"color":"#000","opacity":1},
   "encoding":{"x":{"field":"t","type":"quantitative","scale":{"domain":[-10,30],"range":[0,180],"nice":false},"axis":{"values":[-10,-5,0,5,10,15,20,25,30],"labelExpr":"datum.value == -10 ? '-10' : (datum.value % 10 == 0 ? datum.label : '')","title":"Time (min)","titlePadding":2}},
    "y":{"field":"v","type":"quantitative","scale":{"domain":[0,600],"nice":false},"axis":{"values":[0,100,200,300,400,500,600],"labelExpr":"datum.value % 200 == 0 ? datum.label : ''","title":"EPSC amplitude (pA)"}}}},
  {"data":{"name":"ta1"},"mark":{"type":"line","color":"#000","strokeWidth":1},"encoding":{"x":{"field":"t","type":"quantitative"},"y":{"field":"v","type":"quantitative"},"detail":{"field":"k"},"order":{"value":null}}},
  {"data":{"name":"labc"},"transform":[{"filter":"datum.p=='a1'"}],"mark":{"type":"text"},"encoding":{"x":{"field":"t","type":"quantitative"},"y":{"field":"v","type":"quantitative"},"text":{"field":"s"}}},
  {"data":{"name":"labl"},"transform":[{"filter":"datum.p=='a1'"}],"mark":{"type":"text","align":"left"},"encoding":{"x":{"field":"t","type":"quantitative"},"y":{"field":"v","type":"quantitative"},"text":{"field":"s"}}},
  {"data":{"name":"lett"},"transform":[{"filter":"datum.p=='a1'"}],"mark":{"type":"text","fontSize":19,"color":"#111"},"encoding":{"x":{"field":"t","type":"quantitative"},"y":{"field":"v","type":"quantitative"},"text":{"field":"s"}}}
 ]},
 {"width":130,"height":108,"layer":[
  {"data":{"name":"a2"},"mark":{"type":"point","shape":"square","filled":true,"size":6,"color":"#000","opacity":1},
   "encoding":{"x":{"field":"t","type":"quantitative","scale":{"domain":[-10,30],"range":[3,180],"nice":false},"axis":{"values":[-10,-5,0,5,10,15,20,25,30],"labelExpr":"datum.value == -10 ? '-10' : (datum.value % 10 == 0 ? datum.label : '')","title":"Time (min)","titlePadding":2}},
    "y":{"field":"v","type":"quantitative","scale":{"domain":[0,600],"nice":false},"axis":{"values":[0,100,200,300,400,500,600],"labelExpr":"datum.value % 200 == 0 ? datum.label : ''","title":"EPSC amplitude (pA)","offset":-3}}}},
  {"data":{"name":"ta2"},"mark":{"type":"line","color":"#000","strokeWidth":1},"encoding":{"x":{"field":"t","type":"quantitative"},"y":{"field":"v","type":"quantitative"},"detail":{"field":"k"},"order":{"value":null}}},
  {"data":{"name":"labc"},"transform":[{"filter":"datum.p=='a2'"}],"mark":{"type":"text"},"encoding":{"x":{"field":"t","type":"quantitative"},"y":{"field":"v","type":"quantitative"},"text":{"field":"s"}}},
  {"data":{"name":"labl"},"transform":[{"filter":"datum.p=='a2'"}],"mark":{"type":"text","align":"left"},"encoding":{"x":{"field":"t","type":"quantitative"},"y":{"field":"v","type":"quantitative"},"text":{"field":"s"}}}
 ]},
 {"width":230,"height":108,"layer":[
  {"data":{"name":"a3"},"mark":{"type":"rule","color":"#000","strokeWidth":0.8},
   "encoding":{"x":{"field":"t","type":"quantitative","scale":{"domain":[-10,30],"range":[87,253],"nice":false},"axis":{"values":[-10,-5,0,5,10,15,20,25,30],"labelExpr":"datum.value == -10 ? '-10' : (datum.value % 10 == 0 ? datum.label : '')","title":"Time (min)","titlePadding":2}},
    "y":{"field":"v","type":"quantitative","scale":{"domain":[0,125],"nice":false},"axis":{"values":[0,25,50,75,100,125],"title":"% of EPSC","offset":-87}},"y2":{"field":"e"}}},
  {"data":{"name":"a3"},"mark":{"type":"tick","orient":"horizontal","size":4,"thickness":0.8,"color":"#000"},"encoding":{"x":{"field":"t","type":"quantitative"},"y":{"field":"e","type":"quantitative"}}},
  {"data":{"name":"a3"},"mark":{"type":"point","filled":true,"stroke":"#000","strokeWidth":0.8,"size":14,"opacity":1},"encoding":{"x":{"field":"t","type":"quantitative"},"y":{"field":"v","type":"quantitative"},
   "shape":{"field":"g","type":"nominal","scale":{"domain":["h","k","n","w","m"],"range":["circle","square","circle","square","square"]},"legend":null},
   "fill":{"field":"g","type":"nominal","scale":{"domain":["h","k","n","w","m"],"range":["#ffffff","#999999","#ffffff","#999999","#000000"]},"legend":null}}},
  {"data":{"name":"sym"},"transform":[{"filter":"datum.p=='a3'"}],"mark":{"type":"point","filled":true,"stroke":"#000","strokeWidth":0.8,"size":14,"opacity":1},"encoding":{"x":{"field":"t","type":"quantitative"},"y":{"field":"v","type":"quantitative"},
   "shape":{"field":"g","type":"nominal","scale":{"domain":["h","k","n","w","m"],"range":["circle","square","circle","square","square"]},"legend":null},
   "fill":{"field":"g","type":"nominal","scale":{"domain":["h","k","n","w","m"],"range":["#ffffff","#999999","#ffffff","#999999","#000000"]},"legend":null}}},
  {"data":{"name":"leg"},"transform":[{"filter":"datum.p=='a3'"}],"mark":{"type":"text","align":"left","fontSize":10},"encoding":{"x":{"field":"t","type":"quantitative"},"y":{"field":"v","type":"quantitative"},"text":{"field":"s"}}}
 ]},
 {"width":10,"height":91,"layer":[
  {"data":{"name":"abar"},"mark":{"type":"bar","stroke":"#000","strokeWidth":1},
   "encoding":{"x":{"field":"c","type":"nominal","sort":null,"scale":{"domain":["PKCγ⁺/⁻","PKCγ⁻/⁻"],"range":[55,110],"paddingInner":0.6,"paddingOuter":0.5},"axis":{"title":null,"labelAngle":-55,"labelFontSize":10.5,"ticks":false}},
    "y":{"field":"v","type":"quantitative","scale":{"domain":[0,100],"range":[91,30],"nice":false},"axis":{"values":[0,20,40,60,80,100],"title":"% of EPSC","offset":-55}},
    "color":{"field":"c","type":"nominal","scale":{"domain":["PKCγ⁺/⁻","PKCγ⁻/⁻","Non-injected","+ WT PKCγ-GFP","+ Mu PKCγ-GFP"],"range":["#ffffff","#000000","#ffffff","#8c8c8c","#000000"]},"legend":null}}},
  {"data":{"name":"abar"},"mark":{"type":"rule","strokeWidth":1},"encoding":{"x":{"field":"c","type":"nominal"},"y":{"field":"v","type":"quantitative"},"y2":{"field":"e"}}},
  {"data":{"name":"abar"},"mark":{"type":"tick","size":6,"thickness":1},"encoding":{"x":{"field":"c","type":"nominal"},"y":{"field":"e","type":"quantitative"}}},
  {"data":{"name":"abar"},"mark":{"type":"text","fontSize":10.5},"encoding":{"x":{"field":"c","type":"nominal"},"y":{"field":"lv","type":"quantitative"},"text":{"field":"s"}}}
 ]},
 {"width":214,"height":109,"layer":[
  {"data":{"name":"b1"},"mark":{"type":"point","shape":"square","filled":true,"size":6,"color":"#000","opacity":1},
   "encoding":{"x":{"field":"t","type":"quantitative","scale":{"domain":[-10,30],"range":[0,172],"nice":false},"axis":{"values":[-10,-5,0,5,10,15,20,25,30],"labelExpr":"datum.value == -10 ? '-10' : (datum.value % 10 == 0 ? datum.label : '')","title":"Time (min)","titlePadding":2}},
    "y":{"field":"v","type":"quantitative","scale":{"domain":[0,600],"nice":false},"axis":{"values":[0,100,200,300,400,500,600],"labelExpr":"datum.value % 200 == 0 ? datum.label : ''","title":"EPSC amplitude (pA)"}}}},
  {"data":{"name":"tb1"},"mark":{"type":"line","color":"#000","strokeWidth":1},"encoding":{"x":{"field":"t","type":"quantitative"},"y":{"field":"v","type":"quantitative"},"detail":{"field":"k"},"order":{"value":null}}},
  {"data":{"name":"labc"},"transform":[{"filter":"datum.p=='b1'"}],"mark":{"type":"text"},"encoding":{"x":{"field":"t","type":"quantitative"},"y":{"field":"v","type":"quantitative"},"text":{"field":"s"}}},
  {"data":{"name":"labl"},"transform":[{"filter":"datum.p=='b1'"}],"mark":{"type":"text","align":"left"},"encoding":{"x":{"field":"t","type":"quantitative"},"y":{"field":"v","type":"quantitative"},"text":{"field":"s"}}},
  {"data":{"name":"lett"},"transform":[{"filter":"datum.p=='b1'"}],"mark":{"type":"text","fontSize":19,"color":"#111"},"encoding":{"x":{"field":"t","type":"quantitative"},"y":{"field":"v","type":"quantitative"},"text":{"field":"s"}}}
 ]},
 {"width":130,"height":109,"layer":[
  {"data":{"name":"b2"},"mark":{"type":"point","shape":"square","filled":true,"size":6,"color":"#000","opacity":1},
   "encoding":{"x":{"field":"t","type":"quantitative","scale":{"domain":[-10,30],"range":[13,183],"nice":false},"axis":{"values":[-10,-5,0,5,10,15,20,25,30],"labelExpr":"datum.value == -10 ? '-10' : (datum.value % 10 == 0 ? datum.label : '')","title":"Time (min)","titlePadding":2}},
    "y":{"field":"v","type":"quantitative","scale":{"domain":[0,600],"nice":false},"axis":{"values":[0,100,200,300,400,500,600],"labelExpr":"datum.value % 200 == 0 ? datum.label : ''","title":"EPSC amplitude (pA)","offset":-13}}}},
  {"data":{"name":"tb2"},"mark":{"type":"line","color":"#000","strokeWidth":1},"encoding":{"x":{"field":"t","type":"quantitative"},"y":{"field":"v","type":"quantitative"},"detail":{"field":"k"},"order":{"value":null}}},
  {"data":{"name":"labc"},"transform":[{"filter":"datum.p=='b2'"}],"mark":{"type":"text"},"encoding":{"x":{"field":"t","type":"quantitative"},"y":{"field":"v","type":"quantitative"},"text":{"field":"s"}}},
  {"data":{"name":"labl"},"transform":[{"filter":"datum.p=='b2'"}],"mark":{"type":"text","align":"left"},"encoding":{"x":{"field":"t","type":"quantitative"},"y":{"field":"v","type":"quantitative"},"text":{"field":"s"}}}
 ]},
 {"width":230,"height":109,"layer":[
  {"data":{"name":"b3"},"mark":{"type":"point","shape":"square","filled":true,"size":6,"color":"#000","opacity":1},
   "encoding":{"x":{"field":"t","type":"quantitative","scale":{"domain":[-10,30],"range":[109,282],"nice":false},"axis":{"values":[-10,-5,0,5,10,15,20,25,30],"labelExpr":"datum.value == -10 ? '10' : (datum.value % 10 == 0 ? datum.label : '')","title":"Time (min)","titlePadding":2}},
    "y":{"field":"v","type":"quantitative","scale":{"domain":[0,600],"nice":false},"axis":{"values":[0,100,200,300,400,500,600],"labelExpr":"datum.value % 200 == 0 ? datum.label : ''","title":"EPSC amplitude (pA)","offset":-109}}}},
  {"data":{"name":"tb3"},"mark":{"type":"line","color":"#000","strokeWidth":1},"encoding":{"x":{"field":"t","type":"quantitative"},"y":{"field":"v","type":"quantitative"},"detail":{"field":"k"},"order":{"value":null}}},
  {"data":{"name":"labc"},"transform":[{"filter":"datum.p=='b3'"}],"mark":{"type":"text"},"encoding":{"x":{"field":"t","type":"quantitative"},"y":{"field":"v","type":"quantitative"},"text":{"field":"s"}}},
  {"data":{"name":"labl"},"transform":[{"filter":"datum.p=='b3'"}],"mark":{"type":"text","align":"left"},"encoding":{"x":{"field":"t","type":"quantitative"},"y":{"field":"v","type":"quantitative"},"text":{"field":"s"}}}
 ]},
 {"width":10,"height":1,"data":{"values":[{"z":0}]},"mark":{"type":"point","opacity":0},"encoding":{}},
 {"width":214,"height":167,"layer":[
  {"data":{"name":"c1"},"mark":{"type":"rule","color":"#000","strokeWidth":0.8},
   "encoding":{"x":{"field":"t","type":"quantitative","scale":{"domain":[-10,30],"range":[9,182],"nice":false},"axis":{"values":[-10,-5,0,5,10,15,20,25,30],"labelExpr":"datum.value == -10 ? '-10' : (datum.value % 10 == 0 ? datum.label : '')","title":"Time (min)","titlePadding":2}},
    "y":{"field":"v","type":"quantitative","scale":{"domain":[0,125],"range":[167,56],"nice":false},"axis":{"values":[0,25,50,75,100,125],"title":"% of EPSC","offset":-9}},"y2":{"field":"e"}}},
  {"data":{"name":"c1"},"mark":{"type":"tick","orient":"horizontal","size":4,"thickness":0.8,"color":"#000"},"encoding":{"x":{"field":"t","type":"quantitative"},"y":{"field":"e","type":"quantitative"}}},
  {"data":{"name":"c1"},"mark":{"type":"point","filled":true,"stroke":"#000","strokeWidth":0.8,"size":18,"opacity":1},"encoding":{"x":{"field":"t","type":"quantitative"},"y":{"field":"v","type":"quantitative"},
   "shape":{"field":"g","type":"nominal","scale":{"domain":["h","k","n","w","m"],"range":["circle","square","circle","square","square"]},"legend":null},
   "fill":{"field":"g","type":"nominal","scale":{"domain":["h","k","n","w","m"],"range":["#ffffff","#999999","#ffffff","#999999","#000000"]},"legend":null}}},
  {"data":{"name":"sym"},"transform":[{"filter":"datum.p=='c1'"}],"mark":{"type":"point","filled":true,"stroke":"#000","strokeWidth":0.8,"size":18,"opacity":1},"encoding":{"x":{"field":"t","type":"quantitative"},"y":{"field":"v","type":"quantitative"},
   "shape":{"field":"g","type":"nominal","scale":{"domain":["h","k","n","w","m"],"range":["circle","square","circle","square","square"]},"legend":null},
   "fill":{"field":"g","type":"nominal","scale":{"domain":["h","k","n","w","m"],"range":["#ffffff","#999999","#ffffff","#999999","#000000"]},"legend":null}}},
  {"data":{"name":"dots"},"transform":[{"filter":"datum.p=='c1'"}],"mark":{"type":"line","color":"#000","strokeWidth":1,"strokeDash":[1,1.5]},"encoding":{"x":{"field":"t","type":"quantitative"},"y":{"field":"v","type":"quantitative"},"order":{"value":null}}},
  {"data":{"name":"labc"},"transform":[{"filter":"datum.p=='c1'"}],"mark":{"type":"text"},"encoding":{"x":{"field":"t","type":"quantitative"},"y":{"field":"v","type":"quantitative"},"text":{"field":"s"}}},
  {"data":{"name":"leg"},"transform":[{"filter":"datum.p=='c1'"}],"mark":{"type":"text","align":"left","fontSize":9.5},"encoding":{"x":{"field":"t","type":"quantitative"},"y":{"field":"v","type":"quantitative"},"text":{"field":"s"}}},
  {"data":{"name":"lett"},"transform":[{"filter":"datum.p=='c1'"}],"mark":{"type":"text","fontSize":19,"color":"#111"},"encoding":{"x":{"field":"t","type":"quantitative"},"y":{"field":"v","type":"quantitative"},"text":{"field":"s"}}}
 ]},
 {"width":130,"height":157,"layer":[
  {"data":{"name":"cbar"},"mark":{"type":"bar","stroke":"#000","strokeWidth":1},
   "encoding":{"x":{"field":"c","type":"nominal","sort":null,"scale":{"domain":["Non-injected","+ WT PKCγ-GFP","+ Mu PKCγ-GFP"],"range":[12,78],"paddingInner":0.45,"paddingOuter":0.1},"axis":{"title":null,"labelAngle":-48,"labelFontSize":9.5,"ticks":false}},
    "y":{"field":"v","type":"quantitative","scale":{"domain":[0,150],"range":[157,93],"nice":false},"axis":{"values":[0,50,100,150],"title":"% of EPSC","offset":-12}},
    "color":{"field":"c","type":"nominal","scale":{"domain":["PKCγ⁺/⁻","PKCγ⁻/⁻","Non-injected","+ WT PKCγ-GFP","+ Mu PKCγ-GFP"],"range":["#ffffff","#000000","#ffffff","#8c8c8c","#000000"]},"legend":null}}},
  {"data":{"name":"cbar"},"mark":{"type":"rule","strokeWidth":1},"encoding":{"x":{"field":"c","type":"nominal"},"y":{"field":"v","type":"quantitative"},"y2":{"field":"e"}}},
  {"data":{"name":"cbar"},"mark":{"type":"tick","size":6,"thickness":1},"encoding":{"x":{"field":"c","type":"nominal"},"y":{"field":"e","type":"quantitative"}}},
  {"data":{"values":[{"r":100,"a":"Non-injected","b":"+ Mu PKCγ-GFP"}]},"mark":{"type":"rule","strokeDash":[4,3],"strokeWidth":1},"encoding":{"y":{"field":"r","type":"quantitative"},"x":{"field":"a","type":"nominal","bandPosition":-0.3},"x2":{"field":"b","bandPosition":1.3}}},
  {"data":{"name":"cbar"},"mark":{"type":"text","fontSize":10.5},"encoding":{"x":{"field":"c","type":"nominal"},"y":{"field":"lv","type":"quantitative"},"text":{"field":"s"}}},
  {"data":{"name":"br"},"transform":[{"filter":"datum.p=='c'"}],"mark":{"type":"rule","strokeWidth":1.3},"encoding":{"x":{"field":"x","type":"nominal"},"x2":{"field":"x2"},"y":{"field":"y","type":"quantitative"},"y2":{"field":"y2"}}},
  {"data":{"name":"stars"},"transform":[{"filter":"datum.p=='c' && datum.n==1"}],"mark":{"type":"text","fontSize":11},"encoding":{"x":{"field":"c","type":"nominal"},"y":{"field":"v","type":"quantitative"},"text":{"value":"*"}}},
  {"data":{"name":"stars"},"transform":[{"filter":"datum.p=='c' && datum.n==2"}],"mark":{"type":"text","fontSize":11,"dx":-12},"encoding":{"x":{"field":"c","type":"nominal"},"y":{"field":"v","type":"quantitative"},"text":{"value":"*"}}}
 ]},
 {"width":230,"height":165,"layer":[
  {"data":{"name":"d1"},"mark":{"type":"rule","color":"#000","strokeWidth":0.8},
   "encoding":{"x":{"field":"t","type":"quantitative","scale":{"domain":[-10,30],"range":[8,178],"nice":false},"axis":{"values":[-10,-5,0,5,10,15,20,25,30],"labelExpr":"datum.value == -10 ? '-10' : (datum.value % 10 == 0 ? datum.label : '')","title":"Time (min)","titlePadding":2}},
    "y":{"field":"v","type":"quantitative","scale":{"domain":[0,125],"range":[165,56],"nice":false},"axis":{"values":[0,25,50,75,100,125],"title":"% of EPSC","offset":-8}},"y2":{"field":"e"}}},
  {"data":{"name":"d1"},"mark":{"type":"tick","orient":"horizontal","size":4,"thickness":0.8,"color":"#000"},"encoding":{"x":{"field":"t","type":"quantitative"},"y":{"field":"e","type":"quantitative"}}},
  {"data":{"name":"d1"},"mark":{"type":"point","filled":true,"stroke":"#000","strokeWidth":0.8,"size":18,"opacity":1},"encoding":{"x":{"field":"t","type":"quantitative"},"y":{"field":"v","type":"quantitative"},
   "shape":{"field":"g","type":"nominal","scale":{"domain":["h","k","n","w","m"],"range":["circle","square","circle","square","square"]},"legend":null},
   "fill":{"field":"g","type":"nominal","scale":{"domain":["h","k","n","w","m"],"range":["#ffffff","#999999","#ffffff","#999999","#000000"]},"legend":null}}},
  {"data":{"name":"td"},"mark":{"type":"line","color":"#000","strokeWidth":1},"encoding":{"x":{"field":"t","type":"quantitative"},"y":{"field":"v","type":"quantitative"},"detail":{"field":"k"},"order":{"value":null}}},
  {"data":{"name":"sym"},"transform":[{"filter":"datum.p=='d1'"}],"mark":{"type":"point","filled":true,"stroke":"#000","strokeWidth":0.8,"size":18,"opacity":1},"encoding":{"x":{"field":"t","type":"quantitative"},"y":{"field":"v","type":"quantitative"},
   "shape":{"field":"g","type":"nominal","scale":{"domain":["h","k","n","w","m"],"range":["circle","square","circle","square","square"]},"legend":null},
   "fill":{"field":"g","type":"nominal","scale":{"domain":["h","k","n","w","m"],"range":["#ffffff","#999999","#ffffff","#999999","#000000"]},"legend":null}}},
  {"data":{"name":"dots"},"transform":[{"filter":"datum.p=='d1'"}],"mark":{"type":"line","color":"#000","strokeWidth":1,"strokeDash":[1,1.5]},"encoding":{"x":{"field":"t","type":"quantitative"},"y":{"field":"v","type":"quantitative"},"order":{"value":null}}},
  {"data":{"name":"labc"},"transform":[{"filter":"datum.p=='d1'"}],"mark":{"type":"text"},"encoding":{"x":{"field":"t","type":"quantitative"},"y":{"field":"v","type":"quantitative"},"text":{"field":"s"}}},
  {"data":{"name":"labl"},"transform":[{"filter":"datum.p=='d1'"}],"mark":{"type":"text","align":"left"},"encoding":{"x":{"field":"t","type":"quantitative"},"y":{"field":"v","type":"quantitative"},"text":{"field":"s"}}},
  {"data":{"name":"leg"},"transform":[{"filter":"datum.p=='d1'"}],"mark":{"type":"text","align":"left","fontSize":9.5},"encoding":{"x":{"field":"t","type":"quantitative"},"y":{"field":"v","type":"quantitative"},"text":{"field":"s"}}},
  {"data":{"name":"labr"},"transform":[{"filter":"datum.p=='d1'"}],"mark":{"type":"text","align":"right","fontSize":9.5},"encoding":{"x":{"field":"t","type":"quantitative"},"y":{"field":"v","type":"quantitative"},"text":{"field":"s"}}},
  {"data":{"name":"lett"},"transform":[{"filter":"datum.p=='d1'"}],"mark":{"type":"text","fontSize":19,"color":"#111"},"encoding":{"x":{"field":"t","type":"quantitative"},"y":{"field":"v","type":"quantitative"},"text":{"field":"s"}}}
 ]},
 {"width":10,"height":155,"layer":[
  {"data":{"name":"dbar"},"mark":{"type":"bar","stroke":"#000","strokeWidth":1},
   "encoding":{"x":{"field":"c","type":"nominal","sort":null,"scale":{"domain":["Non-injected","+ WT PKCγ-GFP","+ Mu PKCγ-GFP"],"range":[3,66],"paddingInner":0.45,"paddingOuter":0.1},"axis":{"title":null,"labelAngle":-48,"labelFontSize":9.5,"ticks":false}},
    "y":{"field":"v","type":"quantitative","scale":{"domain":[0,150],"range":[155,91],"nice":false},"axis":{"values":[0,50,100,150],"title":"% of EPSC","offset":-3}},
    "color":{"field":"c","type":"nominal","scale":{"domain":["PKCγ⁺/⁻","PKCγ⁻/⁻","Non-injected","+ WT PKCγ-GFP","+ Mu PKCγ-GFP"],"range":["#ffffff","#000000","#ffffff","#8c8c8c","#000000"]},"legend":null}}},
  {"data":{"name":"dbar"},"mark":{"type":"rule","strokeWidth":1},"encoding":{"x":{"field":"c","type":"nominal"},"y":{"field":"v","type":"quantitative"},"y2":{"field":"e"}}},
  {"data":{"name":"dbar"},"mark":{"type":"tick","size":6,"thickness":1},"encoding":{"x":{"field":"c","type":"nominal"},"y":{"field":"e","type":"quantitative"}}},
  {"data":{"values":[{"r":100,"a":"Non-injected","b":"+ Mu PKCγ-GFP"}]},"mark":{"type":"rule","strokeDash":[4,3],"strokeWidth":1},"encoding":{"y":{"field":"r","type":"quantitative"},"x":{"field":"a","type":"nominal","bandPosition":-0.3},"x2":{"field":"b","bandPosition":1.3}}},
  {"data":{"name":"dbar"},"mark":{"type":"text","fontSize":10.5},"encoding":{"x":{"field":"c","type":"nominal"},"y":{"field":"lv","type":"quantitative"},"text":{"field":"s"}}},
  {"data":{"name":"br"},"transform":[{"filter":"datum.p=='d'"}],"mark":{"type":"rule","strokeWidth":1.3},"encoding":{"x":{"field":"x","type":"nominal"},"x2":{"field":"x2"},"y":{"field":"y","type":"quantitative"},"y2":{"field":"y2"}}},
  {"data":{"name":"stars"},"transform":[{"filter":"datum.p=='d' && datum.n==1"}],"mark":{"type":"text","fontSize":11},"encoding":{"x":{"field":"c","type":"nominal"},"y":{"field":"v","type":"quantitative"},"text":{"value":"*"}}},
  {"data":{"name":"stars"},"transform":[{"filter":"datum.p=='d' && datum.n==2"}],"mark":{"type":"text","fontSize":11,"dx":-12},"encoding":{"x":{"field":"c","type":"nominal"},"y":{"field":"v","type":"quantitative"},"text":{"value":"*"}}}
 ]}
],
"columns":4,
"align":"each",
"spacing":{"row":55,"column":0},
"bounds":"flush"
}
